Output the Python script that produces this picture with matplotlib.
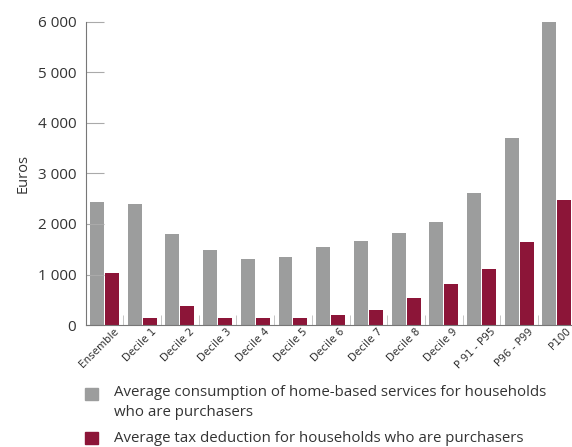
import matplotlib
matplotlib.use("Agg")
import matplotlib.pyplot as plt
import matplotlib.transforms as mtransforms
from matplotlib.patches import Rectangle
import numpy as np

plt.rcParams['font.family'] = ['Open Sans', 'DejaVu Sans']

categories = ['Ensemble', 'Decile 1', 'Decile 2', 'Decile 3', 'Decile 4', 'Decile 5',
              'Decile 6', 'Decile 7', 'Decile 8', 'Decile 9', 'P 91 - P95', 'P96 - P99', 'P100']
consumption = [2440, 2400, 1800, 1490, 1310, 1350, 1550, 1670, 1825, 2040, 2615, 3700, 6000]
deduction = [1030, 140, 380, 130, 130, 130, 190, 300, 535, 810, 1110, 1645, 2475]

gray = '#9c9d9d'
red = '#8c1538'

fig = plt.figure(figsize=(5.72, 4.47), dpi=100)
ax = fig.add_axes([0.1503, 0.2729, 0.8497, 0.678])

x = np.arange(len(categories))
w = 0.37
ax.bar(x - 0.013 - w / 2, consumption, width=w, color=gray)
ax.bar(x + 0.013 + w / 2, deduction, width=w, color=red)

ax.set_xlim(-0.49, 12.4)
ax.set_ylim(0, 6000)

for s in ['top', 'right']:
    ax.spines[s].set_visible(False)
ax.spines['left'].set_color('#777777')
ax.spines['bottom'].set_color('#777777')

ax.set_yticks(range(0, 6001, 1000))
ax.set_yticklabels(['0', '1 000', '2 000', '3 000', '4 000', '5 000', '6 000'])
ax.tick_params(axis='y', direction='in', length=13, color='#aaaaaa', pad=7,
               labelsize=11, labelcolor='#333333')

ax.set_xticks(x)
ax.set_xticklabels(categories, rotation=45, ha='right', rotation_mode='anchor',
                   fontsize=7.5, family=['Liberation Sans Narrow', 'DejaVu Sans'],
                   color='#333333')
ax.tick_params(axis='x', length=0, pad=1)
ax.set_xticks(x[:-1] + 0.5, minor=True)
ax.tick_params(axis='x', which='minor', direction='in', length=7, color='#bbbbbb')
offset = mtransforms.ScaledTranslation(9 / 100, 0, fig.dpi_scale_trans)
for lab in ax.get_xticklabels():
    lab.set_transform(lab.get_transform() + offset)

ax.set_ylabel('Euros', fontsize=10.5, color='#333333', labelpad=5)

# legend
W, H = 572, 447
for (y0, c) in [(388, gray), (432, red)]:
    fig.patches.append(Rectangle((85 / W, 1 - (y0 + 12) / H), 13 / W, 12 / H,
                                 transform=fig.transFigure, color=c))
fig.text(114 / W, 1 - 393 / H, 'Average consumption of home-based services for households',
         fontsize=10.8, va='center', color='#333333')
fig.text(114 / W, 1 - 413 / H, 'who are purchasers', fontsize=10.8, va='center', color='#333333')
fig.text(114 / W, 1 - 439 / H, 'Average tax deduction for households who are purchasers',
         fontsize=10.8, va='center', color='#333333')

fig.savefig('out.png', dpi=100)
